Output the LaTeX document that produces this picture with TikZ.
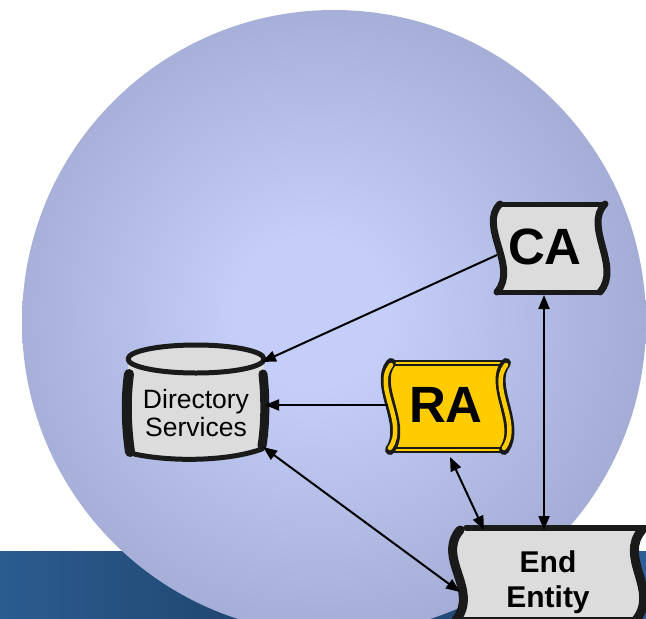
\documentclass[tikz,border=0pt]{standalone}
\usepackage{fontspec}
\setmainfont{Liberation Sans}
\usetikzlibrary{arrows.meta,calc}

\pgfdeclarelayer{bg}
\pgfdeclarelayer{shapes}
\pgfsetlayers{bg,shapes,main}

\definecolor{orbC}{HTML}{C4CEF8}
\definecolor{orbE}{HTML}{949CC4}
\definecolor{bandL}{HTML}{2B5C8F}
\definecolor{bandM}{HTML}{1D3F66}
\definecolor{bandR}{HTML}{2C5F96}
\definecolor{boxgray}{HTML}{DCDCDC}
\definecolor{ink}{HTML}{1A1A1A}
\definecolor{ragold}{HTML}{FFCC00}

\pgfdeclareradialshading{orb}{\pgfpoint{-2bp}{1bp}}{%
  color(0bp)=(orbC); color(6bp)=(orbC); color(36bp)=(orbE); color(50bp)=(orbE)}

\begin{document}
\begin{tikzpicture}[x=1pt,y=-1pt,
  outline/.style={draw=ink, line cap=round, line join=round},
  link/.style={draw=black, line width=2pt},
  one/.style={link, -{Triangle[length=14pt,width=11pt]}},
  both/.style={link, {Triangle[length=14pt,width=11pt]}-{Triangle[length=14pt,width=11pt]}},
  bigtag/.style={font=\bfseries\fontsize{51}{51}\selectfont, inner sep=0pt},
]
\useasboundingbox (0,0) rectangle (646,619);

% backdrop: band and sphere
\begin{pgfonlayer}{bg}
  \shade[left color=bandL, right color=bandR, middle color=bandM] (0,551) rectangle (646,619);
  \shade[shading=orb] (334,322) circle [radius=312];
\end{pgfonlayer}

% labels
\node[bigtag] (ca) at (545,247) {CA};
\node[bigtag] (ra) at (446,405) {RA};
\node[font=\fontsize{26.5}{27.5}\selectfont, align=center, inner sep=0pt] (ds) at (196,413) {Directory\\Services};
\node[font=\bfseries\fontsize{30}{35}\selectfont, align=center, inner sep=0pt] (ee) at (548,582) {End\\Entity};

\begin{pgfonlayer}{shapes}
  % CA banner
  \begin{scope}[shift={(ca.center)}]
    \fill[boxgray] (-45,-43) .. controls +(-22,22) and +(22,-25) .. (-48,45) -- (55,45)
      .. controls +(22,-25) and +(-22,22) .. (60,-43) -- cycle;
    \draw[outline, line width=5pt] (-45,-43) -- (60,-43) (-48,45) -- (55,45);
    \draw[outline, line width=7pt] (-45,-43) .. controls +(-22,22) and +(22,-25) .. (-48,45)
      (55,45) .. controls +(22,-25) and +(-22,22) .. (60,-43);
  \end{scope}
  % RA banner
  \begin{scope}[shift={(ra.center)}]
    \fill[ragold] (-55,-42) .. controls +(-18,22) and +(18,-25) .. (-56,45) -- (58,45)
      .. controls +(18,-25) and +(-18,22) .. (60,-42) -- cycle;
    \draw[outline, line width=6pt] (-55,-42) -- (60,-42) (-56,45) -- (58,45);
    \draw[ragold, line width=1.6pt, line cap=round] (-52,-42) -- (57,-42) (-53,45) -- (55,45);
    \draw[outline, line width=10pt] (-55,-42) .. controls +(-18,22) and +(18,-25) .. (-56,45)
      (58,45) .. controls +(18,-25) and +(-18,22) .. (60,-42);
    \draw[ragold, line width=4.5pt, line cap=round] (-55,-40) .. controls +(-18,22) and +(18,-25) .. (-56,43)
      (58,43) .. controls +(18,-25) and +(-18,22) .. (60,-40);
  \end{scope}
  % directory cylinder
  \begin{scope}[shift={(ds.center)}]
    \fill[boxgray] (-68,-54) -- (-68,39) .. controls (-30,49) and (30,49) .. (68,37) -- (68,-54) -- cycle;
    \fill[boxgray] (0,-54) ellipse [x radius=68, y radius=14];
    \draw[outline, line width=5pt] (0,-54) ellipse [x radius=68, y radius=14];
    \draw[outline, line width=10pt] (-67,-39) .. controls (-71,-11) and (-69,19) .. (-66,39);
    \draw[outline, line width=9pt] (67,-39) .. controls (70,-11) and (69,14) .. (66,33);
    \draw[outline, line width=5pt] (-66,40) .. controls (-30,49) and (30,49) .. (66,36);
  \end{scope}
  % end entity banner
  \begin{scope}[shift={(ee.center)}]
    \fill[boxgray] (-88,-54) .. controls +(-24,28) and +(24,-30) .. (-92,38) -- (88,38)
      .. controls +(24,-30) and +(-24,28) .. (94,-54) -- cycle;
    \draw[outline, line width=6pt] (-82,-54) -- (98,-54) (-92,38) -- (88,38);
    \draw[outline, line width=9pt] (-88,-52) .. controls +(-24,28) and +(24,-30) .. (-92,38)
      (88,38) .. controls +(24,-30) and +(-24,28) .. (94,-52);
  \end{scope}
\end{pgfonlayer}

% connectors
\draw[one]  ($(ca.center)+(-48,8)$) -- ($(ds.center)+(66,-51)$);
\draw[one]  ($(ra.center)+(-58,0)$) -- ($(ds.center)+(69,-8)$);
\draw[both] ($(ds.center)+(67,34)$) -- ($(ee.center)+(-88,10)$);
\draw[both] ($(ra.center)+(4,52)$) -- ($(ee.center)+(-64,-52)$);
\draw[both] ($(ca.center)+(-1,48)$) -- ($(ee.center)+(-4,-52)$);
\end{tikzpicture}
\end{document}
